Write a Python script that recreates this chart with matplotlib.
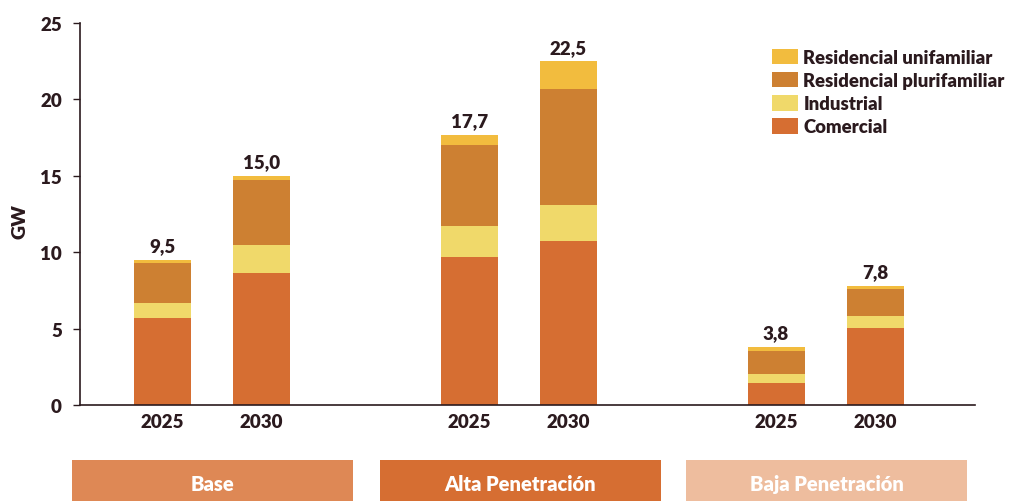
import numpy as np
import matplotlib.pyplot as plt
from matplotlib.patches import Rectangle

plt.rcParams['font.family'] = ['Lato', 'DejaVu Sans']
plt.rcParams['font.weight'] = 'heavy'

scenarios = ['Base', 'Alta Penetración', 'Baja Penetración']
years = ['2025', '2030']
series = ['Comercial', 'Industrial', 'Residencial plurifamiliar', 'Residencial unifamiliar']

# values per bar: Base 2025, Base 2030, Alta 2025, Alta 2030, Baja 2025, Baja 2030
comercial = [5.7, 8.65, 9.7, 10.75, 1.45, 5.05]
industrial = [1.0, 1.85, 2.0, 2.35, 0.6, 0.8]
plurifamiliar = [2.6, 4.2, 5.3, 7.6, 1.5, 1.75]
unifamiliar = [0.2, 0.3, 0.7, 1.8, 0.25, 0.2]
totals = ['9,5', '15,0', '17,7', '22,5', '3,8', '7,8']

colors = ['#D66E32', '#F0D96A', '#CD8032', '#F2BC3E']
box_colors = ['#DE8855', '#D66E32', '#EEBD9E']
dark = '#2b1a1e'
wt = 'heavy'

W, H = 1021, 502
fig = plt.figure(figsize=(W / 100, H / 100), dpi=100)
ax = fig.add_axes([80 / W, 96 / H, 895 / W, 382 / H])

group_step = 3.1
x = np.array([g * group_step + i for g in range(len(scenarios)) for i in range(len(years))])
width = 0.576

bottom = np.zeros(len(x))
stack = [comercial, industrial, plurifamiliar, unifamiliar]
bars = []
for vals, c in zip(stack, colors):
    b = ax.bar(x, vals, width, bottom=bottom, color=c, linewidth=0)
    bars.append(b)
    bottom += np.array(vals)

for xi, top, lab in zip(x, bottom, totals):
    ax.text(xi, top + 0.35, lab, ha='center', va='bottom', fontsize=13.5,
            fontweight=wt, color=dark)

ax.set_xlim(-0.833, 8.21)
ax.set_ylim(0, 25)
ax.set_yticks([0, 5, 10, 15, 20, 25])
ax.set_xticks(x)
ax.set_xticklabels(years * len(scenarios))
ax.tick_params(axis='x', length=0, pad=6, labelsize=13.5, colors=dark)
ax.tick_params(axis='y', length=5, width=1, pad=8, labelsize=13.5, colors=dark)
for lab in ax.get_xticklabels() + ax.get_yticklabels():
    lab.set_fontweight(wt)
for s in ['top', 'right']:
    ax.spines[s].set_visible(False)
for s in ['left', 'bottom']:
    ax.spines[s].set_color(dark)
    ax.spines[s].set_linewidth(1.2)
ax.set_ylabel('GW', fontsize=14, fontweight=wt, color=dark)
ax.yaxis.set_label_coords(20 / W, 1 - 222 / H, transform=fig.transFigure)
ax.yaxis.label.set_va('center')

leg = ax.legend([bars[3], bars[2], bars[1], bars[0]],
                ['Residencial unifamiliar', 'Residencial plurifamiliar', 'Industrial', 'Comercial'],
                loc='upper left', bbox_to_anchor=(772 / W, 1 - 50 / H), bbox_transform=fig.transFigure,
                frameon=False, fontsize=13.3, handlelength=1.4, handleheight=0.9,
                handletextpad=0.3, labelspacing=0.33, borderpad=0, borderaxespad=0)
for t in leg.get_texts():
    t.set_color(dark)
    t.set_fontweight(wt)

# scenario boxes under the chart
box_x = [72, 380, 686]
for bx, name, bc in zip(box_x, scenarios, box_colors):
    fig.add_artist(Rectangle((bx / W, 0), 281 / W, 41 / H, transform=fig.transFigure,
                             color=bc, linewidth=0))
    fig.text((bx + 140.5) / W, 17 / H, name, ha='center', va='center', color='white',
             fontsize=14.5, fontweight=wt)

fig.savefig('out.png', dpi=100)
